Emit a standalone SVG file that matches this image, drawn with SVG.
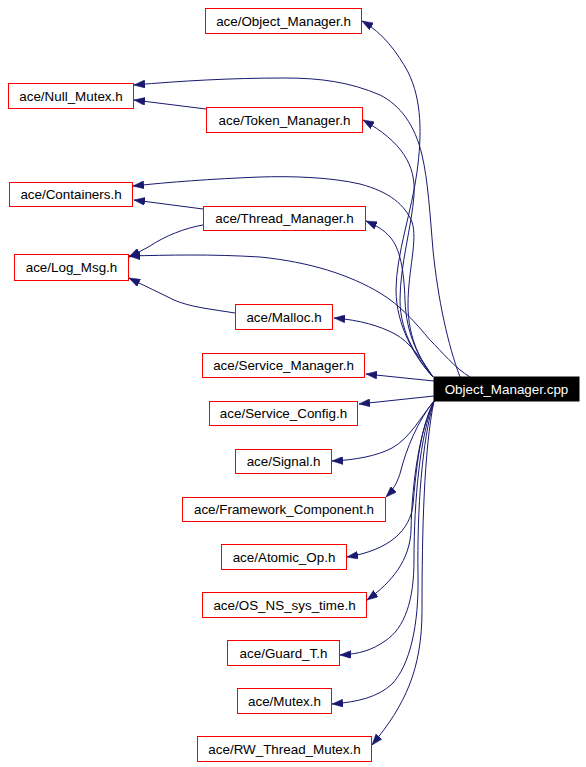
<svg xmlns="http://www.w3.org/2000/svg" width="586" height="767" viewBox="0 0 586 767">
<style>
.n rect{fill:#ffffff;stroke:#ff0000;stroke-width:1}
.n text{font-family:"Liberation Sans",Arial,sans-serif;font-size:13.4px;fill:#000000;text-anchor:middle}
#cpp rect{fill:#000000;stroke:#000000}
#cpp text{fill:#ffffff}
.e path{fill:none;stroke:#191970;stroke-width:1;marker-end:url(#arr)}
</style>
<defs>
<marker id="arr" viewBox="0 0 11 8" refX="11" refY="4" markerWidth="11" markerHeight="8" markerUnits="userSpaceOnUse" orient="auto">
<path d="M0,0 L11,4 L0,8 z" fill="#191970" stroke="#191970" stroke-width="0.5"/>
</marker>
</defs>
<rect width="586" height="767" fill="#ffffff"/>
<g id="edges" class="e">
<path d="M433,377 C415,358 396,325 396,290 C396,255 412,210 417,172 C422,135 422,100 408,72 C397,52 383,33 362,21"/>
<path d="M433,377 C420,362 400,335 400,300 C400,265 412,225 414,195 C416,165 402,142 363,120"/>
<path d="M433,377 C420,360 406,335 405,300 C404,270 400,248 390,237 C384,230 377,226 366,221"/>
<path d="M433,377 C422,362 408,340 408,305 C408,270 418,240 412,222 C405,205 390,192 360,184 C330,177 290,176 260,177 C210,179 170,182 133,186"/>
<path d="M460,377 C448,345 438,300 433,250 C430,215 428,180 422,155 C415,125 400,105 380,95 C350,82 320,78 285,78 C230,78 180,81 134,85"/>
<path d="M470,377 C455,368 442,352 430,340 C415,322 400,305 380,293 C350,275 310,262 260,257 C210,254 170,255 129,256"/>
<path d="M433,377 C422,360 410,342 395,334 C380,326 360,320 334,318"/>
<path d="M206,109 L134,100"/>
<path d="M203,209 L134,200"/>
<path d="M203,225 C185,228 165,236 150,246 C143,250 137,253 129,257"/>
<path d="M235,313 C210,309 190,307 174,300 C160,293 145,286 129,278"/>
<path d="M434,381 L366,374"/>
<path d="M434,396 L359,404"/>
<path d="M434,401 C420,418 410,438 392,448 C377,456 355,460 332,461"/>
<path d="M434,401 C418,420 406,450 401,470 C398,482 393,490 386,497"/>
<path d="M434,401 C420,428 416,470 413,505 C410,530 390,550 347,557"/>
<path d="M434,401 C420,430 412,480 411,530 C410,560 392,582 367,600"/>
<path d="M434,401 C420,435 414,500 414,560 C414,600 405,628 385,641 C372,650 360,654 340,655"/>
<path d="M434,401 C422,440 417,510 418,575 C419,625 410,665 392,684 C378,697 358,702 332,704"/>
<path d="M434,401 C424,450 422,530 422,610 C422,670 405,705 372,745"/>
</g>
<g id="cpp" class="n"><rect x="434" y="377" width="145" height="24"/><text x="506.5" y="393.8">Object_Manager.cpp</text></g>
<g id="objmgr" class="n"><rect x="205.5" y="8.5" width="156" height="25"/><text x="283.5" y="25.8">ace/Object_Manager.h</text></g>
<g id="nullmutex" class="n"><rect x="8.5" y="83.5" width="125" height="25"/><text x="71" y="100.8">ace/Null_Mutex.h</text></g>
<g id="tokenmgr" class="n"><rect x="206.5" y="107.5" width="156" height="25"/><text x="284.5" y="124.8">ace/Token_Manager.h</text></g>
<g id="containers" class="n"><rect x="9.5" y="182.5" width="123" height="24"/><text x="71" y="199.3">ace/Containers.h</text></g>
<g id="threadmgr" class="n"><rect x="203.5" y="206.5" width="162" height="24"/><text x="284.5" y="223.3">ace/Thread_Manager.h</text></g>
<g id="logmsg" class="n"><rect x="14.5" y="254.5" width="114" height="26"/><text x="71.5" y="272.3">ace/Log_Msg.h</text></g>
<g id="malloc" class="n"><rect x="235.5" y="304.5" width="97" height="25"/><text x="284" y="321.8">ace/Malloc.h</text></g>
<g id="servicemgr" class="n"><rect x="202.5" y="353.5" width="162" height="24"/><text x="283.5" y="370.3">ace/Service_Manager.h</text></g>
<g id="serviceconfig" class="n"><rect x="209.5" y="401.5" width="148" height="24"/><text x="283.5" y="418.3">ace/Service_Config.h</text></g>
<g id="signal" class="n"><rect x="235.5" y="449.5" width="96" height="24"/><text x="283.5" y="466.3">ace/Signal.h</text></g>
<g id="framework" class="n"><rect x="182.5" y="497.5" width="203" height="24"/><text x="284" y="514.3">ace/Framework_Component.h</text></g>
<g id="atomicop" class="n"><rect x="221.5" y="544.5" width="125" height="25"/><text x="284" y="561.8">ace/Atomic_Op.h</text></g>
<g id="osnstime" class="n"><rect x="202.5" y="592.5" width="164" height="25"/><text x="284.5" y="609.8">ace/OS_NS_sys_time.h</text></g>
<g id="guardt" class="n"><rect x="227.5" y="640.5" width="112" height="25"/><text x="283.5" y="657.8">ace/Guard_T.h</text></g>
<g id="mutex" class="n"><rect x="237.5" y="688.5" width="94" height="25"/><text x="284.5" y="705.8">ace/Mutex.h</text></g>
<g id="rwmutex" class="n"><rect x="197.5" y="736.5" width="174" height="25"/><text x="284.5" y="753.8">ace/RW_Thread_Mutex.h</text></g>
</svg>
